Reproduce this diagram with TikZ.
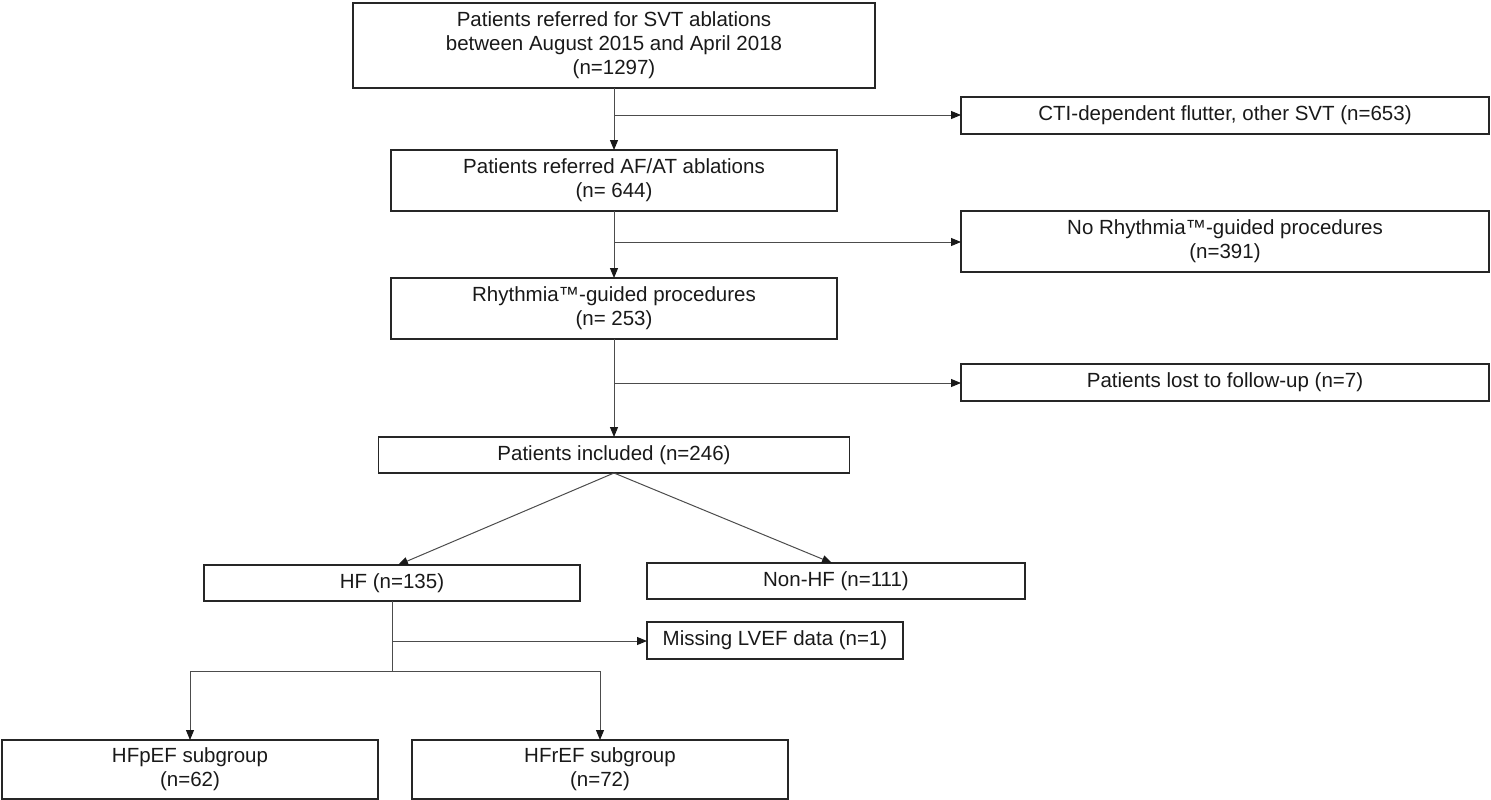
\documentclass[tikz,border=0pt]{standalone}
\usepackage{fontspec}
\setmainfont{Liberation Sans}
\usetikzlibrary{arrows.meta}
\begin{document}
\begin{tikzpicture}[x=1pt,y=-1pt,
  bx/.style={draw=black!85, line width=1.4pt, inner sep=0pt, outer sep=0pt, align=center,
    font=\fontsize{20.5}{24}\selectfont, text=black!90},
  ln/.style={draw=black!70, line width=1pt},
  ar/.style={ln, -{Triangle[length=10pt,width=8pt,color=black!90]}}]
\useasboundingbox (0,0) rectangle (1491,800);
% main column
\node[bx, minimum width=522pt, minimum height=85pt] (b1) at (614,45.5)
  {Patients referred for SVT ablations\\between August 2015 and April 2018\\(n=1297)};
\node[bx, minimum width=446pt, minimum height=61pt] (b2) at (614,180.5)
  {Patients referred AF/AT ablations\\(n= 644)};
\node[bx, minimum width=446pt, minimum height=61pt] (b3) at (614,308.5)
  {Rhythmia™-guided procedures\\(n= 253)};
\node[bx, minimum width=471pt, minimum height=36pt] (b4) at (614,455)
  {Patients included (n=246)};
% exclusions
\node[bx, minimum width=528pt, minimum height=37pt] (cti) at (1225,115.5)
  {CTI-dependent flutter, other SVT (n=653)};
\node[bx, minimum width=528pt, minimum height=61pt] (nor) at (1225,241.5)
  {No Rhythmia™-guided procedures\\(n=391)};
\node[bx, minimum width=528pt, minimum height=37pt] (lost) at (1225,382.5)
  {Patients lost to follow-up (n=7)};
% groups
\node[bx, minimum width=376pt, minimum height=36pt] (hf) at (392,583)
  {HF (n=135)};
\node[bx, minimum width=378pt, minimum height=36pt] (nhf) at (836,581)
  {Non-HF (n=111)};
\node[bx, minimum width=256pt, minimum height=37pt] (miss) at (775,640.5)
  {Missing LVEF data (n=1)};
\node[bx, minimum width=376pt, minimum height=59pt] (hfp) at (190,769.5)
  {HFpEF subgroup\\(n=62)};
\node[bx, minimum width=376pt, minimum height=59pt] (hfr) at (600,769.5)
  {HFrEF subgroup\\(n=72)};
% junctions
\coordinate (j1) at (614,115);
\coordinate (j2) at (614,242);
\coordinate (j3) at (614,383);
\coordinate (j4) at (392,641);
\coordinate (j5) at (392,671);
% connectors
\draw[ar] (b1.south) -- (b2.north);
\draw[ar] (j1) -- (j1 -| cti.west);
\draw[ar] (b2.south) -- (b3.north);
\draw[ar] (j2) -- (j2 -| nor.west);
\draw[ar] (b3.south) -- (b4.north);
\draw[ar] (j3) -- (j3 -| lost.west);
\draw[ar] (b4.south) -- ([xshift=6pt]hf.north);
\draw[ar] (b4.south) -- ([xshift=-4pt]nhf.north);
\draw[ln] (hf.south) -- (j5);
\draw[ar] (j4) -- (j4 -| miss.west);
\draw[ln] (hfp.north |- j5) -- (hfr.north |- j5);
\draw[ar] (hfp.north |- j5) -- (hfp.north);
\draw[ar] (hfr.north |- j5) -- (hfr.north);
\end{tikzpicture}
\end{document}
